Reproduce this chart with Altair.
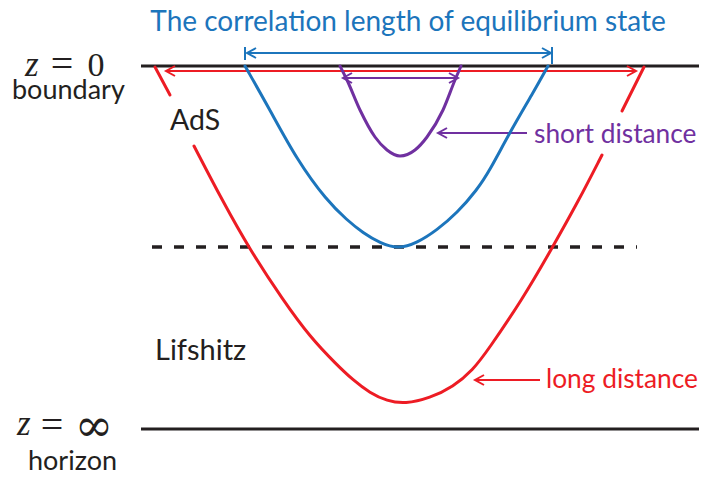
import altair as alt
import pandas as pd

# ---- colours ----
BLUE = "#1C75BC"
RED = "#ED1C24"
PURPLE = "#7030A0"
BLACK = "#231F20"

# ---- curves (reference pixel coordinates: x right, y down) ----
red_a_x = [155, 170]
red_a_y = [67, 95]
red_b_x = [194, 222, 250, 283, 310, 337, 353, 370, 387, 405, 430, 453, 473, 488, 522, 551, 579, 602]
red_b_y = [146, 200, 250, 300, 337, 365, 380, 393, 401, 404, 398, 387, 370, 350, 300, 250, 200, 155]
red_c_x = [622, 644]
red_c_y = [111, 67]

blue_x = [245, 270, 297, 327, 347, 363, 380, 398, 417, 437, 457, 477, 490, 510, 533, 548]
blue_y = [66, 110, 160, 201, 220, 233, 243, 249, 243, 230, 213, 190, 170, 132, 93, 66]

purple_x = [340, 347, 360, 375, 387, 400, 415, 427, 443, 455, 461]
purple_y = [66, 80, 110, 137, 150, 156, 150, 137, 110, 80, 66]

# ---- straight segments ----
seg_name = ["top", "bottom", "blue_arrow", "blue_tick_l", "blue_tick_r", "red_arrow",
            "purple_arrow", "purple_ptr", "red_ptr"]
seg_x1 = [141, 141, 247, 245, 552, 166, 343, 438, 475]
seg_x2 = [707, 703, 551, 245, 552, 636, 458, 527, 540]
seg_y1 = [66, 429, 53, 47, 47, 71, 78, 133, 380]
seg_y2 = [66, 429, 53, 60, 64, 71, 78, 133, 380]
seg_col = [BLACK, BLACK, BLUE, BLUE, BLUE, RED, PURPLE, PURPLE, RED]
seg_w = [3, 3, 2, 2, 2, 2, 2, 2, 2]

dash_x1, dash_x2, dash_y = [152], [637], [247]

# ---- arrowheads ----
head_x = [247, 551, 166, 636, 343, 458, 438, 475]
head_y = [53, 53, 71, 71, 78, 78, 133, 380]
head_ang = [0, 180, 0, 180, 0, 180, 0, 0]
head_col = [BLUE, BLUE, RED, RED, PURPLE, PURPLE, PURPLE, RED]

# ---- texts ----
sans_text = ["The correlation length of equilibrium state", "short distance", "long distance",
             "AdS", "Lifshitz", "boundary", "horizon"]
sans_x = [408, 534, 546, 170, 155, 12, 28]
sans_y = [31, 143, 388, 130, 360, 99, 470]
sans_col = [BLUE, PURPLE, RED, BLACK, BLACK, BLACK, BLACK]
sans_align = ["center", "left", "left", "left", "left", "left", "left"]
sans_size = [28, 26.3, 26.3, 28.5, 29, 27, 27]

math_z_x = [25, 17]
math_z_y = [76, 435]
math_eq_x = [62, 52]
math_eq_y = [77, 438]
zero_x, zero_y = [96], [76]
inf_x, inf_y = [94], [441]

X = alt.Scale(domain=[0, 707], nice=False, zero=False)
Y = alt.Scale(domain=[0, 478], nice=False, zero=False, reverse=True)


def xq(f):
    return alt.X(f, type="quantitative", scale=X, axis=None)


def yq(f):
    return alt.Y(f, type="quantitative", scale=Y, axis=None)


def curve_df(parts):
    rows = []
    for name, xs, ys, col in parts:
        for i, (a, b) in enumerate(zip(xs, ys)):
            rows.append({"curve": name, "i": i, "x": a, "y": b, "col": col})
    return pd.DataFrame(rows)


smooth_df = curve_df([("rb", red_b_x, red_b_y, RED), ("bl", blue_x, blue_y, BLUE)])
straight_df = curve_df([("ra", red_a_x, red_a_y, RED), ("rc", red_c_x, red_c_y, RED)])
purple_df = curve_df([("pu", purple_x, purple_y, PURPLE)])


def curve_layer(df, interp):
    return alt.Chart(df).mark_line(interpolate=interp, strokeWidth=3, strokeCap="round").encode(
        x=xq("x"), y=yq("y"), detail="curve:N", order="i:Q",
        color=alt.Color("col:N", scale=None),
    )


curves = [curve_layer(smooth_df, "basis"), curve_layer(straight_df, "linear"),
          curve_layer(purple_df, "monotone")]

segs_df = pd.DataFrame({"name": seg_name, "x1": seg_x1, "x2": seg_x2, "y1": seg_y1, "y2": seg_y2,
                        "col": seg_col, "w": seg_w})
segs = alt.Chart(segs_df).mark_rule().encode(
    x=xq("x1"), x2="x2", y=yq("y1"), y2="y2",
    color=alt.Color("col:N", scale=None),
    strokeWidth=alt.StrokeWidth("w:Q", scale=None),
)

dash_df = pd.DataFrame({"x1": dash_x1, "x2": dash_x2, "y": dash_y})
dash = alt.Chart(dash_df).mark_rule(color=BLACK, strokeWidth=3.5, strokeDash=[10, 12]).encode(
    x=xq("x1"), x2="x2", y=yq("y"))

heads_df = pd.DataFrame({"x": head_x, "y": head_y, "ang": head_ang, "col": head_col})
heads = alt.Chart(heads_df).mark_point(shape="M1.8,-1L0,0L1.8,1", size=100, filled=False,
                                        strokeWidth=2, opacity=1).encode(
    x=xq("x"), y=yq("y"),
    angle=alt.Angle("ang:Q", scale=None),
    color=alt.Color("col:N", scale=None),
)

sans_df = pd.DataFrame({"t": sans_text, "x": sans_x, "y": sans_y, "col": sans_col,
                        "al": sans_align, "s": sans_size})
sans_layers = []
for al in ["center", "left"]:
    sub = sans_df[sans_df["al"] == al]
    sans_layers.append(alt.Chart(sub).mark_text(font="Lato", align=al, baseline="alphabetic").encode(
        x=xq("x"), y=yq("y"), text="t:N",
        color=alt.Color("col:N", scale=None),
        size=alt.Size("s:Q", scale=None),
    ))

z_df = pd.DataFrame({"x": math_z_x, "y": math_z_y, "t": ["z", "z"]})
zmark = alt.Chart(z_df).mark_text(font="Liberation Serif", fontStyle="italic", fontSize=35,
                                  align="left", baseline="alphabetic", color=BLACK).encode(
    x=xq("x"), y=yq("y"), text="t:N")

eq_df = pd.DataFrame({"x": math_eq_x, "y": math_eq_y, "t": ["=", "="]})
eqmark = alt.Chart(eq_df).mark_text(font="Liberation Serif", fontSize=40,
                                    align="center", baseline="alphabetic", color=BLACK).encode(
    x=xq("x"), y=yq("y"), text="t:N")

zero_df = pd.DataFrame({"x": zero_x, "y": zero_y, "t": ["0"]})
zeromark = alt.Chart(zero_df).mark_text(font="Liberation Serif", fontSize=34,
                                        align="center", baseline="alphabetic", color=BLACK).encode(
    x=xq("x"), y=yq("y"), text="t:N")

inf_df = pd.DataFrame({"x": inf_x, "y": inf_y, "t": ["∞"]})
infmark = alt.Chart(inf_df).mark_text(font="DejaVu Serif", fontSize=46,
                                      align="center", baseline="alphabetic", color=BLACK).encode(
    x=xq("x"), y=yq("y"), text="t:N")

chart = alt.layer(dash, segs, *curves, heads, *sans_layers, zmark, eqmark, zeromark, infmark).properties(
    width=707, height=478,
    padding={"left": -8, "top": -8, "right": -8, "bottom": 0},
    autosize=alt.AutoSizeParams(type="none"),
    background="white",
).configure_view(stroke=None)

chart.save("out.html", embed_options={"renderer": "svg", "actions": False})
